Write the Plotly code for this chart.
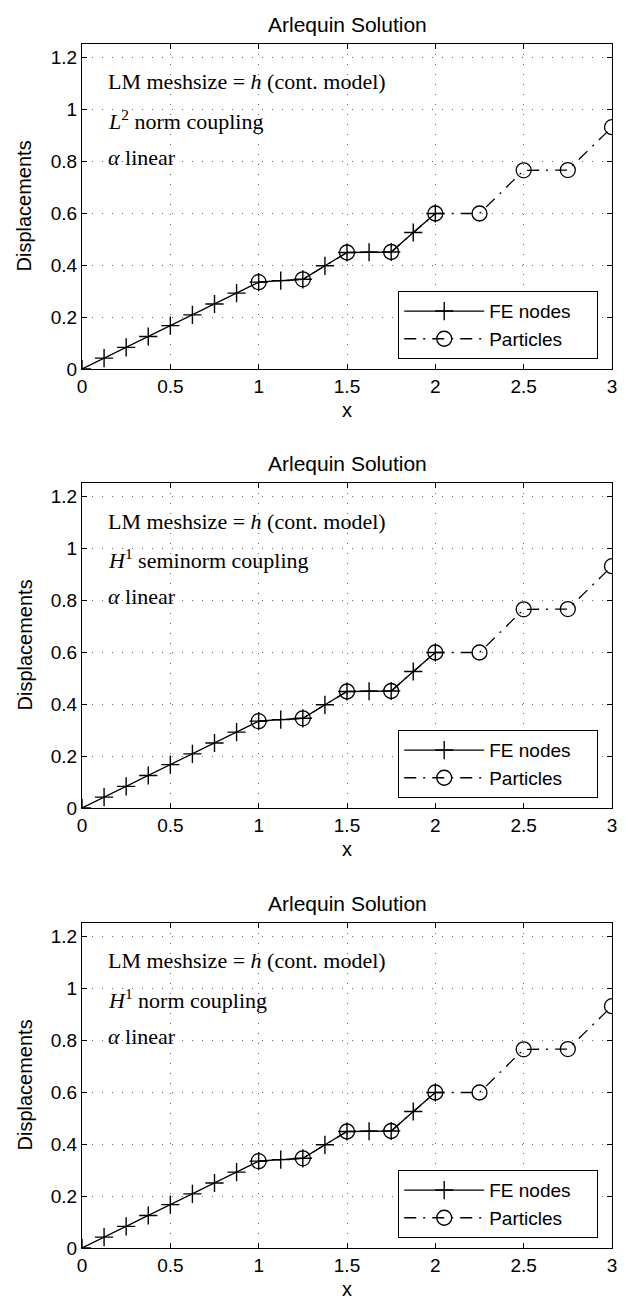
import plotly.graph_objects as go

# ---- data ----
fe_x = [0, 0.125, 0.25, 0.375, 0.5, 0.625, 0.75, 0.875, 1.0,
        1.125, 1.25, 1.375, 1.5, 1.625, 1.75, 1.875, 2.0]
fe_y = [0, 0.042, 0.083, 0.125, 0.167, 0.208, 0.25, 0.292, 0.334,
        0.340, 0.345, 0.397, 0.448, 0.449, 0.450, 0.525, 0.598]
part_x = [1.0, 1.25, 1.5, 1.75, 2.0, 2.25, 2.5, 2.75, 3.0]
part_y = [0.334, 0.345, 0.448, 0.450, 0.598, 0.598, 0.764, 0.765, 0.930]

x_ticks = [0, 0.5, 1, 1.5, 2, 2.5, 3]
x_ticktext = ["0", "0.5", "1", "1.5", "2", "2.5", "3"]
y_ticks = [0, 0.2, 0.4, 0.6, 0.8, 1.0, 1.2]
y_ticktext = ["0", "0.2", "0.4", "0.6", "0.8", "1", "1.2"]

coupling_labels = ["<i>L</i><sup>2</sup> norm coupling",
                   "<i>H</i><sup>1</sup> seminorm coupling",
                   "<i>H</i><sup>1</sup> norm coupling"]
title_text = "Arlequin Solution"
series_names = ["FE nodes", "Particles"]

W, H = 630, 1301
left_px, right_px = 82, 612
tops = [44, 483, 923]
plot_h = 325

fig = go.Figure()
SANS = "Liberation Sans, Arial, sans-serif"
SERIF = "Liberation Serif, Times New Roman, serif"
PAD = "\u00a0" * 4

for i in range(3):
    n = "" if i == 0 else str(i + 1)
    xa = "x" + n
    ya = "y" + n
    leg = "legend" + n
    fig.add_trace(go.Scatter(
        x=fe_x, y=fe_y, mode="lines+markers", name=series_names[0] + PAD,
        line=dict(color="black", width=1.3),
        marker=dict(symbol="cross-thin-open", size=13, line=dict(color="black", width=1.4)),
        xaxis=xa, yaxis=ya, legend=leg))
    fig.add_trace(go.Scatter(
        x=part_x, y=part_y, mode="lines+markers", name=series_names[1] + PAD,
        line=dict(color="black", width=1.3, dash="12px,7px,2px,7px"),
        marker=dict(symbol="circle-open", size=15, line=dict(color="black", width=1.3)),
        xaxis=xa, yaxis=ya, legend=leg))

    top = tops[i]
    bot = top + plot_h
    ydom = [1 - bot / H, 1 - top / H]
    xdom = [left_px / W, right_px / W]
    axis_common = dict(
        showline=True, linecolor="black", linewidth=1.2, mirror="allticks",
        ticks="inside", ticklen=5, tickcolor="black",
        showgrid=True, gridcolor="#666666", griddash="1px,9px", gridwidth=1,
        zeroline=False, tickfont=dict(family=SANS, size=19, color="black"),
        automargin=False)
    fig.layout["xaxis" + n] = dict(
        domain=xdom, range=[0, 3], tickvals=x_ticks, ticktext=x_ticktext,
        anchor=ya, **axis_common)
    fig.layout["yaxis" + n] = dict(
        domain=ydom, range=[0, 1.25], tickvals=y_ticks, ticktext=y_ticktext,
        anchor=xa, **axis_common)

    fig.layout[leg] = dict(
        x=398 / W, y=1 - (top + 247) / H, xanchor="left", yanchor="top",
        bgcolor="white", bordercolor="black", borderwidth=1.2,
        font=dict(family=SANS, size=19, color="black"),
        itemwidth=80)

    xd = xa + " domain"
    yd = ya + " domain"
    # title
    fig.add_annotation(text=title_text, xref=xd, yref=yd, x=0.5, y=1,
                       yanchor="bottom", yshift=6, showarrow=False,
                       font=dict(family=SANS, size=21, color="black"))
    # x label
    fig.add_annotation(text="x", xref=xd, yref=yd, x=0.5, y=0,
                       yanchor="middle", yshift=-41, showarrow=False,
                       font=dict(family=SANS, size=20, color="black"))
    # y label
    fig.add_annotation(text="Displacements", xref="paper", yref=yd,
                       x=24 / W, y=0.5, xanchor="center", yanchor="middle",
                       textangle=-90, showarrow=False,
                       font=dict(family=SANS, size=20, color="black"))
    # text annotations
    texts = ["LM meshsize = <i>h</i> (cont. model)", coupling_labels[i], "<i>α</i> linear"]
    ypix = [82, 120, 157]
    for t, yp in zip(texts, ypix):
        fig.add_annotation(text=t, xref=xd, yref=yd,
                           x=(106 - left_px) / (right_px - left_px),
                           y=(bot - (top - 44 + yp)) / plot_h,
                           xanchor="left", yanchor="middle", showarrow=False,
                           font=dict(family=SERIF, size=22, color="black"))

fig.update_layout(
    width=W, height=H, margin=dict(l=0, r=0, t=0, b=0),
    paper_bgcolor="white", plot_bgcolor="white", showlegend=True)

fig.write_html("out.html")
